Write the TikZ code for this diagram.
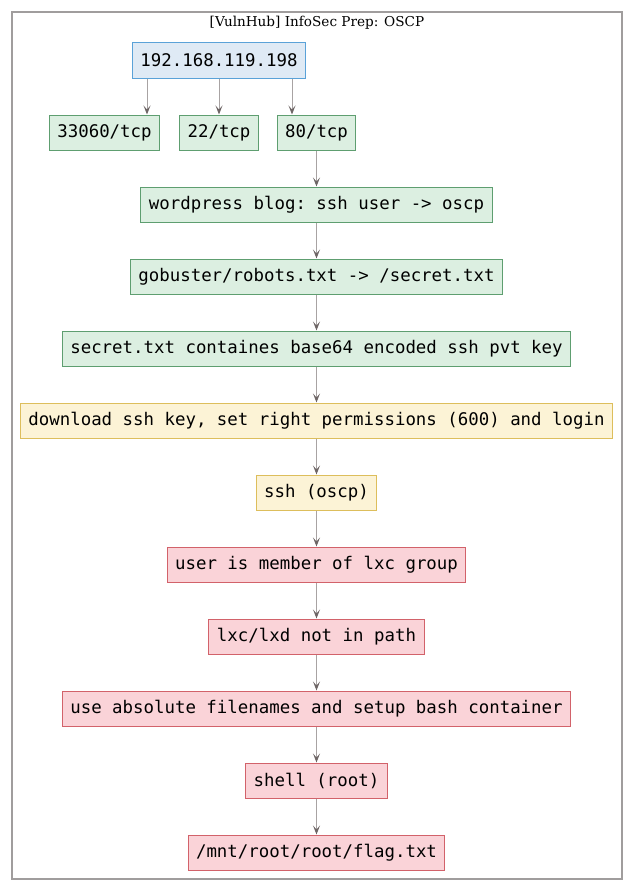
\documentclass[tikz,border=0pt]{standalone}
\usepackage{fontspec}
\setmonofont{DejaVu Sans Mono}
\newfontfamily\titlefont{DejaVu Serif}
\usetikzlibrary{arrows.meta,calc}
\definecolor{bluefill}{HTML}{DFEAF5}
\definecolor{blueline}{HTML}{5AA2D8}
\definecolor{greenfill}{HTML}{DCEFE1}
\definecolor{greenline}{HTML}{5E9E70}
\definecolor{yellowfill}{HTML}{FCF3D6}
\definecolor{yellowline}{HTML}{DDBE5C}
\definecolor{redfill}{HTML}{FAD3D8}
\definecolor{redline}{HTML}{D2626A}
\definecolor{edgeline}{HTML}{A8A3A3}
\definecolor{edgetip}{HTML}{6E6666}
\definecolor{framecol}{HTML}{A09D9D}
\tikzset{
  box/.style={draw, line width=1pt, minimum height=35pt, inner xsep=8pt, inner ysep=0pt,
    font=\fontsize{17.4}{20}\ttfamily, anchor=center},
  bluebox/.style={box, fill=bluefill, draw=blueline},
  greenbox/.style={box, fill=greenfill, draw=greenline},
  yellowbox/.style={box, fill=yellowfill, draw=yellowline},
  redbox/.style={box, fill=redfill, draw=redline},
  arr/.style={draw=edgeline, line width=1pt, -{Stealth[length=9pt,width=7pt,inset=4pt,color=edgetip]}},
}
\begin{document}
\begin{tikzpicture}[x=1pt,y=-1pt]
\useasboundingbox (0,0) rectangle (634,891);
\draw[framecol, line width=1.5pt] (12,12) rectangle (622,879);
\node[font=\fontsize{13.6}{15}\titlefont] (title) at (317,22.5) {[VulnHub] InfoSec Prep: OSCP};
\node[bluebox] (ip) at (219,60.5) {192.168.119.198};
\node[greenbox] (p1) at (104.5,132.5) {33060/tcp};
\node[greenbox] (p2) at (219,132.5) {22/tcp};
\node[greenbox] (p3) at (316.5,132.5) {80/tcp};
\node[greenbox] (wp) at (316.5,204.5) {wordpress blog: ssh user -> oscp};
\node[greenbox] (gb) at (316.5,276.5) {gobuster/robots.txt -> /secret.txt};
\node[greenbox] (st) at (316.5,348.5) {secret.txt containes base64 encoded ssh pvt key};
\node[yellowbox] (dl) at (316.5,420.5) {download ssh key, set right permissions (600) and login};
\node[yellowbox] (ssh) at (316.5,492.5) {ssh (oscp)};
\node[redbox] (lxc) at (316.5,564.5) {user is member of lxc group};
\node[redbox] (path) at (316.5,636.5) {lxc/lxd not in path};
\node[redbox] (abs) at (316.5,708.5) {use absolute filenames and setup bash container};
\node[redbox] (sh) at (316.5,780.5) {shell (root)};
\node[redbox] (flag) at (316.5,852.5) {/mnt/root/root/flag.txt};
\draw[arr] ([xshift=-72pt]ip.south) -- ([xshift=-72pt]ip.south |- p1.north);
\draw[arr] (ip.south) -- (ip.south |- p2.north);
\draw[arr] ([xshift=73pt]ip.south) -- ([xshift=73pt]ip.south |- p3.north);
\draw[arr] (p3) -- (wp);
\draw[arr] (wp) -- (gb);
\draw[arr] (gb) -- (st);
\draw[arr] (st) -- (dl);
\draw[arr] (dl) -- (ssh);
\draw[arr] (ssh) -- (lxc);
\draw[arr] (lxc) -- (path);
\draw[arr] (path) -- (abs);
\draw[arr] (abs) -- (sh);
\draw[arr] (sh) -- (flag);
\end{tikzpicture}
\end{document}
